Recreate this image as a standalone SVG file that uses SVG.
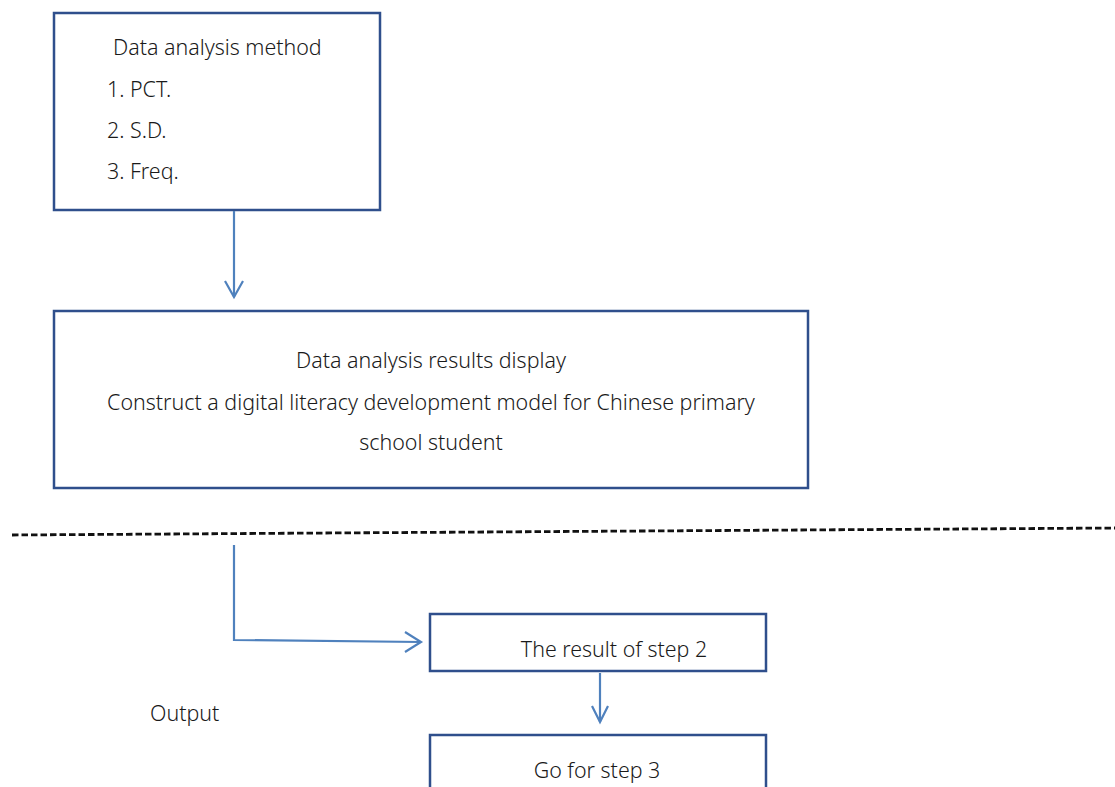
<svg xmlns="http://www.w3.org/2000/svg" width="1115" height="787" viewBox="0 0 1115 787">
  <style>
    .box { fill: #ffffff; stroke: #2F4F8C; stroke-width: 2.5; }
    .txt { font-family: "Noto Sans", "Open Sans", sans-serif; font-size: 21.4px; fill: #1a1a1a; font-weight: 300; }
    .mid { text-anchor: middle; }
    .conn { fill: none; stroke: #4F81BD; stroke-width: 2.2; }
    .dash { fill: none; stroke: #111111; stroke-width: 2.8; stroke-dasharray: 6.5 3; }
  </style>

  <rect width="1115" height="787" fill="#ffffff"/>

  <g id="method">
    <rect class="box" x="54" y="13" width="326" height="197"/>
    <text class="txt" x="113" y="55">Data analysis method</text>
    <text class="txt" x="107" y="97">1. PCT.</text>
    <text class="txt" x="107" y="138">2. S.D.</text>
    <text class="txt" x="107" y="179">3. Freq.</text>
  </g>

  <g id="results">
    <rect class="box" x="54" y="311" width="754" height="177"/>
    <text class="txt mid" x="431" y="368">Data analysis results display</text>
    <text class="txt mid" x="431" y="410">Construct a digital literacy development model for Chinese primary</text>
    <text class="txt mid" x="431" y="450">school student</text>
  </g>

  <g id="step2">
    <rect class="box" x="430" y="614" width="336" height="57"/>
    <text class="txt mid" x="614" y="657">The result of step 2</text>
  </g>

  <g id="step3">
    <rect class="box" x="430" y="735" width="336" height="60"/>
    <text class="txt mid" x="597" y="778">Go for step 3</text>
  </g>

  <g id="output-label">
    <text class="txt" x="150" y="721">Output</text>
  </g>

  <g id="connectors">
    <line class="dash" x1="12" y1="535" x2="1115" y2="528"/>
    <!-- method -> results -->
    <path class="conn" d="M234 211 V297"/>
    <path class="conn" d="M225 281 L234 297 L243 281"/>
    <!-- elbow -> step 2 -->
    <path class="conn" d="M234 545 V640 L421 642"/>
    <path class="conn" d="M405 632 L421 642 L405 652"/>
    <!-- step 2 -> step 3 -->
    <path class="conn" d="M600 673 V722"/>
    <path class="conn" d="M592 706 L600 722 L608 706"/>
  </g>
</svg>
